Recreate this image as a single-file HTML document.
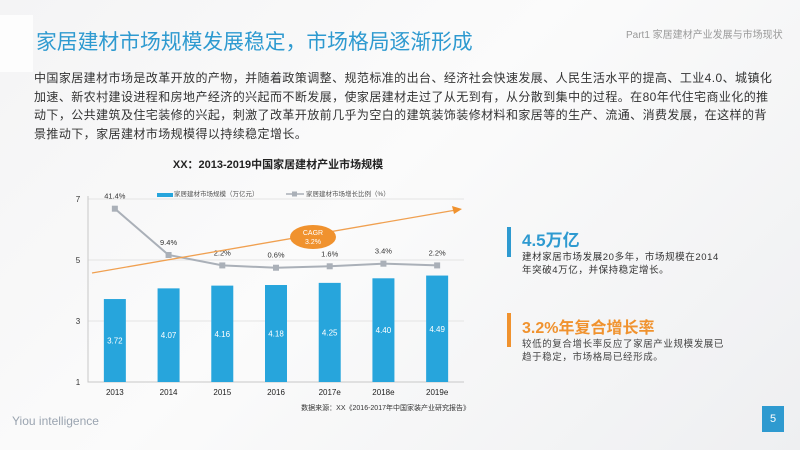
<!DOCTYPE html>
<html><head><meta charset="utf-8">
<style>
body{margin:0;}
#page{position:relative;width:800px;height:450px;overflow:hidden;background:linear-gradient(135deg,#f4f4f5 0%,#fbfbfb 45%,#eeeff1 100%);font-family:"Liberation Sans","Noto Sans CJK SC",sans-serif;}
.abs{position:absolute;}
</style></head>
<body>
<div id="page">
<div class="abs" style="left:0;top:15px;width:33px;height:57px;background:#fdfdfd"></div>
<div class="abs" style="left:36px;top:25px;font-size:20.8px;color:#2e9ad0;white-space:nowrap">家居建材市场规模发展稳定，市场格局逐渐形成</div>
<div class="abs" style="left:626px;top:26px;font-size:10px;color:#999;white-space:nowrap">Part1 家居建材产业发展与市场现状</div>
<div class="abs" style="left:34px;top:69px;font-size:12px;line-height:18.7px;color:#333;white-space:nowrap;letter-spacing:0.42px">中国家居建材市场是改革开放的产物，并随着政策调整、规范标准的出台、经济社会快速发展、人民生活水平的提高、工业4.0、城镇化<br>加速、新农村建设进程和房地产经济的兴起而不断发展，使家居建材走过了从无到有，从分散到集中的过程。在80年代住宅商业化的推<br>动下，公共建筑及住宅装修的兴起，刺激了改革开放前几乎为空白的建筑装饰装修材料和家居等的生产、流通、消费发展，在这样的背<br>景推动下，家居建材市场规模得以持续稳定增长。</div>

<svg class="abs" style="left:0;top:0" width="800" height="450" id="chart">
<text x="278" y="168" text-anchor="middle" font-size="11" font-weight="bold" fill="#222">XX：2013-2019中国家居建材产业市场规模</text>
<rect x="157" y="193" width="16" height="4" fill="#27a5dc"/>
<text x="174" y="196" font-size="6.5" fill="#555">家居建材市场规模（万亿元）</text>
<line x1="286" y1="194" x2="304" y2="194" stroke="#aab0b8" stroke-width="1.5"/>
<rect x="292" y="191.5" width="5" height="5" fill="#aab0b8"/>
<text x="306" y="196" font-size="6.5" fill="#555">家居建材市场增长比例（%）</text>
<g id="plot"></g>
<text x="470" y="410" text-anchor="end" font-size="7" fill="#333">数据来源：XX《2016-2017年中国家装产业研究报告》</text>
</svg>

<div class="abs" style="left:507px;top:227px;width:4px;height:30px;background:#2e9ad0"></div>
<div class="abs" style="left:522px;top:226px;font-size:17px;font-weight:bold;color:#2e9ad0">4.5万亿</div>
<div class="abs" style="left:522px;top:251px;font-size:9.5px;line-height:13px;color:#333;white-space:nowrap;letter-spacing:0.6px">建材家居市场发展20多年，市场规模在2014<br>年突破4万亿，并保持稳定增长。</div>
<div class="abs" style="left:507px;top:313px;width:4px;height:34px;background:#f0922e"></div>
<div class="abs" style="left:522px;top:314px;font-size:16px;font-weight:bold;color:#f0922e">3.2%年复合增长率</div>
<div class="abs" style="left:522px;top:338px;font-size:9.5px;line-height:13px;color:#444;white-space:nowrap;letter-spacing:0.6px">较低的复合增长率反应了家居产业规模发展已<br>趋于稳定，市场格局已经形成。</div>

<div class="abs" style="left:12px;top:414px;font-size:12px;color:#9aa4b0">Yiou intelligence</div>
<div class="abs" style="left:762px;top:406px;width:22px;height:26px;background:#2e9ad0;color:#fff;font-size:11px;text-align:center;line-height:26px">5</div>
</div>
<script>
const categories=["2013","2014","2015","2016","2017e","2018e","2019e"];
const marketSize=[3.72,4.07,4.16,4.18,4.25,4.40,4.49];
const growthPct=[41.4,9.4,2.2,0.6,1.6,3.4,2.2];
const growthLabels=["41.4%","9.4%","2.2%","0.6%","1.6%","3.4%","2.2%"];
const yTicks=[1,3,5,7];
const NS="http://www.w3.org/2000/svg";
const g=document.getElementById('plot');
const x0=88,x1=464,band=(x1-x0)/categories.length;
const xC=i=>x0+band*(i+0.5);
const yL=v=>382-(v-1)*30.5;
const yR=p=>268.6-p*1.447;
function mk(t,a){const e=document.createElementNS(NS,t);for(const k in a)e.setAttribute(k,a[k]);g.appendChild(e);return e;}
yTicks.forEach(v=>{
 if(v>1){const l=mk('line',{x1:x0,x2:x1,y1:yL(v),y2:yL(v),stroke:'#e4e4e4','stroke-width':1});
 
 }
 const t=mk('text',{x:78,y:yL(v)+3,'text-anchor':'middle','font-size':8,fill:'#333'});t.textContent=v;
 
 
});
const ax=mk('path',{d:`M${x0} 196 V382 H${x1}`,fill:'none',stroke:'#c8c8c8','stroke-width':1});


marketSize.forEach((v,i)=>{
 const r=mk('rect',{x:xC(i)-11,y:yL(v),width:22,height:382-yL(v),fill:'#27a5dc'});
 
 
 const t=mk('text',{x:xC(i),y:(yL(v)+382)/2+3,'text-anchor':'middle','font-size':8,fill:'#fff'});t.textContent=v.toFixed(2);
 
 
 const c=mk('text',{x:xC(i),y:395,'text-anchor':'middle','font-size':8,fill:'#222'});c.textContent=categories[i];
 
 
});
const pts=growthPct.map((p,i)=>xC(i)+','+yR(p)).join(' ');
const pl=mk('polyline',{points:pts,fill:'none',stroke:'#aab0b8','stroke-width':2});


growthPct.forEach((p,i)=>{
 const m=mk('rect',{x:xC(i)-3,y:yR(p)-3,width:6,height:6,fill:'#aab0b8'});
 
 
 const t=mk('text',{x:xC(i),y:yR(p)-10,'text-anchor':'middle','font-size':7.5,fill:'#333'});t.textContent=growthLabels[i];
 
 
});
const ar=mk('line',{x1:92,y1:273,x2:456,y2:210,stroke:'#f0a050','stroke-width':1.3});


const ah=mk('polygon',{points:'462,209 452,206 454,214',fill:'#f0922e'});


const el=mk('ellipse',{cx:313,cy:237,rx:23,ry:12,fill:'#f0922e'});


const t1=mk('text',{x:313,y:235,'text-anchor':'middle','font-size':7,fill:'#fff'});t1.textContent='CAGR';


const t2=mk('text',{x:313,y:244,'text-anchor':'middle','font-size':7,fill:'#fff'});t2.textContent='3.2%';


</script>
</body></html>
